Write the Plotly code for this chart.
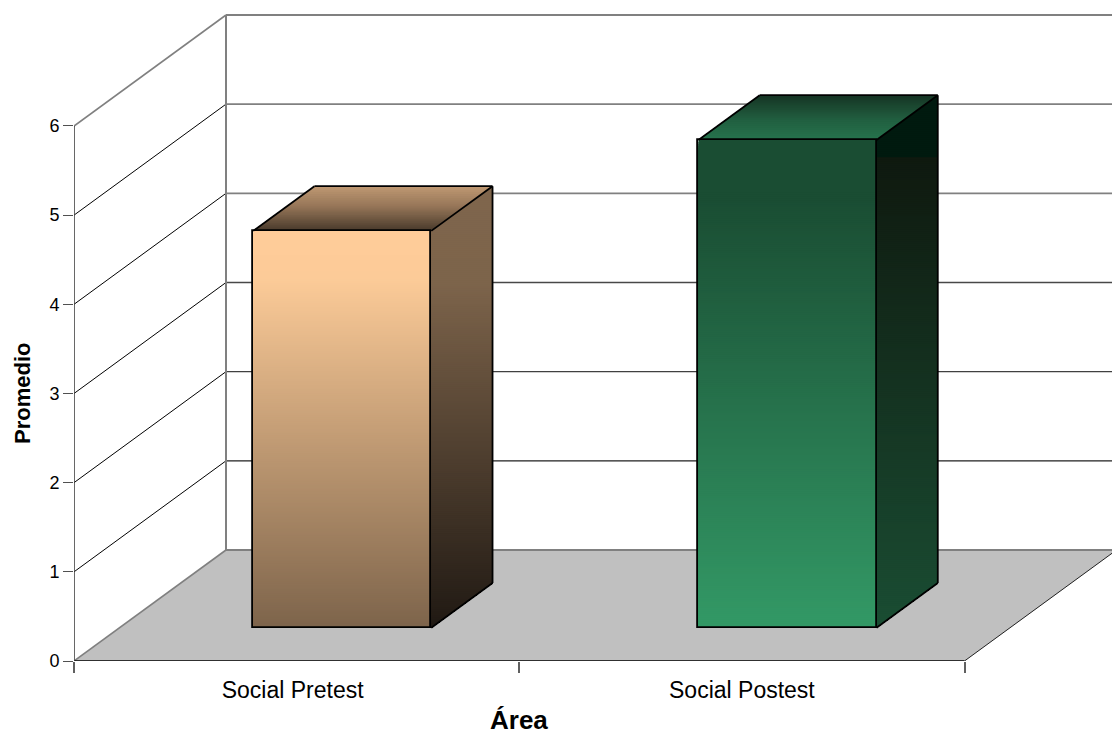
import plotly.graph_objects as go

# Chart data
categories = ["Social Pretest", "Social Postest"]
values = [4.45, 5.47]
y_ticks = [0, 1, 2, 3, 4, 5, 6]
y_title = "Promedio"
x_title = "Área"

# Oblique projection: one unit of depth moves a point this far along each axis
DEPTH_X = 152 / 445.25
DEPTH_Y = 111 / 89.17
BAR_WIDTH = 0.40
BAR_DEPTH_FRONT = 0.30
BAR_DEPTH_BACK = 0.703
Y_STEP = 1 / 89.17

FONT = "Liberation Sans"
GREY = "#808080"

# Back wall gridline colour per level, darkening towards the floor
GRID_COLOURS = {0: GREY, 1: "#202020", 2: "#404040", 3: "#484848", 4: GREY, 5: GREY, 6: GREY}
GRID_WIDTHS = {0: 1.8, 1: 1.2, 2: 1.3, 3: 1.3, 4: 1.8, 5: 1.8, 6: 1.8}

# Colour ramps, each running from the top of a face to its bottom
FACE_RAMPS = [
    {
        "front": [(0, (255, 204, 153)), (0.12, (252, 203, 152)), (1, (125, 100, 75))],
        "side": [(0, (127, 102, 76)), (0.22, (125, 100, 75)), (1, (32, 25, 19))],
        "top": [(0, (192, 153, 115)), (0.45, (150, 118, 88)), (1, (72, 57, 43))],
    },
    {
        "front": [(0, (26, 77, 51)), (0.12, (26, 77, 51)), (1, (51, 153, 102))],
        "side": [(0, (0, 26, 15)), (0.115, (0, 26, 15)), (0.116, (15, 25, 15)),
                 (1, (26, 77, 51))],
        "top": [(0, (22, 52, 36)), (0.55, (33, 95, 64)), (1, (38, 115, 77))],
    },
]


def ramp_colour(stops, t):
    for (t0, c0), (t1, c1) in zip(stops, stops[1:]):
        if t <= t1:
            f = 0 if t1 == t0 else (t - t0) / (t1 - t0)
            rgb = [round(a + (b - a) * f) for a, b in zip(c0, c1)]
            return f"rgb({rgb[0]},{rgb[1]},{rgb[2]})"
    return f"rgb{stops[-1][1]}"


def clip_below(poly, level):
    """Part of a polygon that lies at or below a horizontal level."""
    out = []
    for (x0, y0), (x1, y1) in zip(poly, poly[1:] + poly[:1]):
        if y0 <= level:
            out.append((x0, y0))
        if (y0 - level) * (y1 - level) < 0:
            out.append((x0 + (x1 - x0) * (level - y0) / (y1 - y0), level))
    return out


def path_of(poly):
    return "M" + "L".join(f"{x:.5f},{y:.5f}" for x, y in poly) + "Z"


def gradient_shapes(poly, stops):
    """Paint a polygon top-down in 2 px bands, each one overlapping everything below it."""
    top = max(p[1] for p in poly)
    bottom = min(p[1] for p in poly)
    n = max(1, int((top - bottom) / (2 * Y_STEP)))
    shapes = []
    for i in range(n):
        level = top - (top - bottom) * i / n
        shapes.append(dict(
            type="path", layer="below", xref="x", yref="y",
            path=path_of(clip_below(poly, level)),
            fillcolor=ramp_colour(stops, (i + 0.5) / n),
            line=dict(width=0),
        ))
    return shapes


def project(x, y, depth):
    return (x + depth * DEPTH_X, y + depth * DEPTH_Y)


def line_shape(p0, p1, color, width):
    return dict(type="line", layer="below", xref="x", yref="y",
                x0=p0[0], y0=p0[1], x1=p1[0], y1=p1[1],
                line=dict(color=color, width=width))


n_cat = len(categories)
x_end = n_cat + DEPTH_X + 0.05
shapes = []

# Floor
floor = [project(0, 0, 0), project(n_cat, 0, 0), project(n_cat, 0, 1), project(0, 0, 1)]
shapes.append(dict(type="path", layer="below", xref="x", yref="y", path=path_of(floor),
                   fillcolor="#C0C0C0", line=dict(width=0)))

# Side wall diagonals and back wall gridlines
for tick in y_ticks:
    edge = GREY if tick in (0, y_ticks[-1]) else "#000000"
    if tick > 0:
        shapes.append(line_shape(project(0, tick, 0), project(0, tick, 1), edge,
                                 1.6 if tick == y_ticks[-1] else 1))
    shapes.append(line_shape(project(0, tick, 1), (x_end, tick + DEPTH_Y),
                             GRID_COLOURS[tick], GRID_WIDTHS[tick]))
shapes.append(line_shape(project(0, 0, 1), project(0, y_ticks[-1], 1), GREY, 2))
shapes.append(line_shape(project(0, 0, 0), project(0, 0, 1), GREY, 1.6))
shapes.append(line_shape(project(n_cat, 0, 0), project(n_cat, 0, 1), "#202020", 1))

# Bar faces, painted as vertical colour ramps
centers = [i + 0.5 for i in range(n_cat)]
base = BAR_DEPTH_FRONT * DEPTH_Y
bar_x = [c + BAR_DEPTH_FRONT * DEPTH_X for c in centers]
outline_x, outline_y = [], []
for cx, value, ramps in zip(bar_x, values, FACE_RAMPS):
    left, right = cx - BAR_WIDTH / 2, cx + BAR_WIDTH / 2
    run = BAR_DEPTH_BACK - BAR_DEPTH_FRONT
    y_low, y_high = base, base + value
    front = [(left, y_high), (right, y_high), (right, y_low), (left, y_low)]
    side = [(right, y_high), (right + run * DEPTH_X, y_high + run * DEPTH_Y),
            (right + run * DEPTH_X, y_low + run * DEPTH_Y), (right, y_low)]
    roof = [(left, y_high), (left + run * DEPTH_X, y_high + run * DEPTH_Y),
            (right + run * DEPTH_X, y_high + run * DEPTH_Y), (right, y_high)]
    shapes += gradient_shapes(front, ramps["front"])
    shapes += gradient_shapes(side, ramps["side"])
    shapes += gradient_shapes(roof, ramps["top"])
    # Visible edges of the side and roof
    for a, b in [(roof[0], roof[1]), (roof[1], roof[2]), (roof[2], roof[3]),
                 (side[1], side[2]), (side[2], side[3])]:
        outline_x += [a[0], b[0], None]
        outline_y += [a[1], b[1], None]

fig = go.Figure()

# Front faces: native bars lifted to the front of the bar slot, outline only
fig.add_trace(go.Bar(
    x=bar_x, y=values, base=[base] * n_cat, width=BAR_WIDTH,
    marker=dict(color="rgba(0,0,0,0)", line=dict(color="#000000", width=1.8)),
    customdata=categories, hovertemplate="%{customdata}: %{y}<extra></extra>",
    showlegend=False,
))
fig.add_trace(go.Scatter(
    x=outline_x, y=outline_y, mode="lines", hoverinfo="skip", showlegend=False,
    line=dict(color="#000000", width=1.8),
))

# Axis lines, kept to the extent of the chart rather than the whole plot area
fig.add_trace(go.Scatter(
    x=[0, n_cat], y=[0, 0], mode="lines", hoverinfo="skip", showlegend=False,
    cliponaxis=False, line=dict(color="#000000", width=1.5),
))
fig.add_trace(go.Scatter(
    x=[0, 0], y=[0, y_ticks[-1]], mode="lines", hoverinfo="skip", showlegend=False,
    cliponaxis=False, line=dict(color="#404040", width=1.6),
))

W, H = 1112, 736
X0, Y0 = 74, 661
fig.update_layout(
    width=W, height=H, autosize=False,
    margin=dict(l=0, r=0, t=0, b=0, autoexpand=False),
    paper_bgcolor="#FFFFFF", plot_bgcolor="#FFFFFF",
    shapes=shapes, bargap=0,
    xaxis=dict(
        domain=[X0 / W, 1], range=[0, (W - X0) / 445.25], anchor="y",
        tickmode="array", tickvals=[0.491, 1.5], ticktext=categories,
        ticks="outside", ticklen=8, tickcolor="rgba(0,0,0,0)",
        tickfont=dict(family=FONT, size=23, color="#000000"),
        showgrid=False, zeroline=False, showline=False,
        minor=dict(tickmode="array", tickvals=list(range(n_cat + 1)),
                   ticks="outside", ticklen=11, tickcolor="#606060", tickwidth=1.5,
                   showgrid=False),
    ),
    yaxis=dict(
        domain=[(H - Y0) / H, 1], range=[0, Y0 / 89.17], anchor="x",
        tickmode="array", tickvals=y_ticks,
        ticks="outside", ticklen=10, tickcolor="#505050", tickwidth=1.3,
        tickfont=dict(family=FONT, size=18, color="#000000"),
        showgrid=False, zeroline=False, showline=False,
    ),
    annotations=[
        dict(text=f"<b>{y_title}</b>", xref="paper", yref="paper", x=22 / W,
             y=(H - 394) / H, xanchor="center", yanchor="middle", textangle=-90,
             showarrow=False, font=dict(family=FONT, size=22, color="#000000")),
        dict(text=f"<b>{x_title}</b>", xref="x", yref="paper", x=1, y=(H - 720) / H,
             xanchor="center", yanchor="middle", showarrow=False,
             font=dict(family=FONT, size=26, color="#000000")),
    ],
)

fig.write_html("out.html", config=dict(displayModeBar=False))
